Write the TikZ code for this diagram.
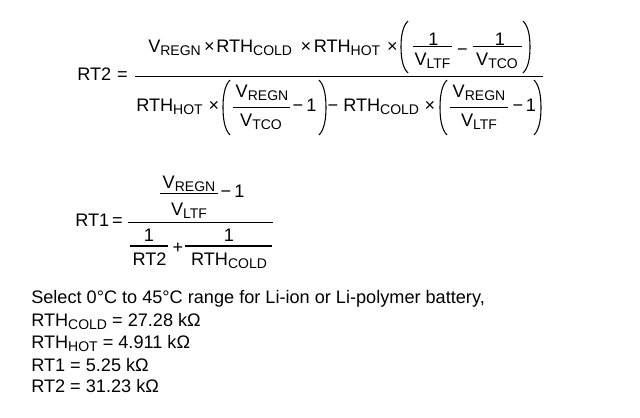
\documentclass[tikz,border=0pt]{standalone}
\usepackage{fontspec}
\setmainfont{Liberation Sans}
\newcommand\sub[1]{\raisebox{-2.4pt}{\fontsize{10.5}{12}\selectfont #1}}
\newcommand\lparen[3]{% x, top, bottom
  \draw[par] ({#1+7},#2) .. controls ({#1+1.5},{#2+0.1*(#3-#2)}) and (#1,{#2+0.3*(#3-#2)}) .. (#1,{0.5*(#2+#3)})
     .. controls (#1,{#3-0.3*(#3-#2)}) and ({#1+1.5},{#3-0.1*(#3-#2)}) .. ({#1+7},#3);}
\newcommand\rparen[3]{% x right, top, bottom
  \draw[par] ({#1-7},#2) .. controls ({#1-1.5},{#2+0.1*(#3-#2)}) and (#1,{#2+0.3*(#3-#2)}) .. (#1,{0.5*(#2+#3)})
     .. controls (#1,{#3-0.3*(#3-#2)}) and ({#1-1.5},{#3-0.1*(#3-#2)}) .. ({#1-7},#3);}
\begin{document}
\begin{tikzpicture}[x=0.75pt,y=-0.75pt,
  t/.style={inner sep=0pt, font=\fontsize{13.6}{16}\selectfont},
  tl/.style={t, anchor=base west},
  tc/.style={t, anchor=base},
  bar/.style={line width=0.9pt},
  par/.style={line width=0.8pt}]
\useasboundingbox (0,0) rectangle (640,418);
% ---------- equation 1 ----------
\node[tl] (a0) at (77,80.7) {RT2};
\node[tc] (a1) at (122.5,80.7) {=};
\draw[bar] (135,76.5) -- (543,76.5);
% numerator
\node[tl] (n1) at (148,52.5) {V\sub{REGN}};
\node[tc] (n2) at (209.5,52.5) {×};
\node[tl] (n3) at (216,52.5) {RTH\sub{COLD}};
\node[tc] (n4) at (306,52.5) {×};
\node[tl] (n5) at (313.5,52.5) {RTH\sub{HOT}};
\node[tc] (n6) at (392.5,52.5) {×};
\lparen{401}{21}{73}
\draw[bar] (412.5,46.3) -- (452,46.3);
\node[tc] (n7) at (433.5,45) {1};
\node[tc] (n8) at (432.5,65.7) {V\sub{LTF}};
\node[tc] (n9) at (462.5,55) {−};
\draw[bar] (472.5,46.3) -- (522,46.3);
\node[tc] (n10) at (500,45) {1};
\node[tc] (n11) at (497,65.7) {V\sub{TCO}};
\rparen{530}{21}{73}
% denominator
\node[tl] (d1) at (136,111) {RTH\sub{HOT}};
\node[tc] (d2) at (214,111) {×};
\lparen{223}{80}{135}
\draw[bar] (233,107.3) -- (290,107.3);
\node[tc] (d3) at (262,97.7) {V\sub{REGN}};
\node[tc] (d4) at (261,126) {V\sub{TCO}};
\node[tc] (d5) at (298,111) {−};
\node[tl] (d6) at (306,111) {1};
\rparen{326}{80}{135}
\node[tc] (d7) at (333,111) {−};
\node[tl] (d8) at (343,111) {RTH\sub{COLD}};
\node[tc] (d9) at (430,111) {×};
\lparen{440}{80}{135}
\draw[bar] (450,107.3) -- (508,107.3);
\node[tc] (d10) at (479,97.7) {V\sub{REGN}};
\node[tc] (d11) at (479,126) {V\sub{LTF}};
\node[tc] (d12) at (518,111) {−};
\node[tl] (d13) at (525.5,111) {1};
\rparen{541}{80}{135}
% ---------- equation 2 ----------
\node[tl] (b0) at (75,226.7) {RT1};
\node[tc] (b1) at (117.5,226.7) {=};
\draw[bar] (128,222.3) -- (273,222.3);
\draw[bar] (160,193.3) -- (218,193.3);
\node[tc] (b2) at (189,188.3) {V\sub{REGN}};
\node[tc] (b3) at (189,215) {V\sub{LTF}};
\node[tc] (b4) at (226,197.7) {−};
\node[tl] (b5) at (234,197.7) {1};
\draw[bar] (130,246) -- (168,246);
\node[tc] (b6) at (149,241.7) {1};
\node[tc] (b7) at (149.5,265) {RT2};
\node[tc] (b8) at (178,253) {+};
\draw[bar] (185,246) -- (272,246);
\node[tc] (b9) at (229,241.7) {1};
\node[tc] (b10) at (229,265) {RTH\sub{COLD}};
% ---------- text ----------
\node[tl] (l1) at (31,303) {Select 0°C to 45°C range for Li-ion or Li-polymer battery,};
\node[tl] (l2) at (31,326) {RTH\sub{COLD} = 27.28 kΩ};
\node[tl] (l3) at (31,348) {RTH\sub{HOT} = 4.911 kΩ};
\node[tl] (l4) at (31,371) {RT1 = 5.25 kΩ};
\node[tl] (l5) at (31,392) {RT2 = 31.23 kΩ};
\end{tikzpicture}
\end{document}
